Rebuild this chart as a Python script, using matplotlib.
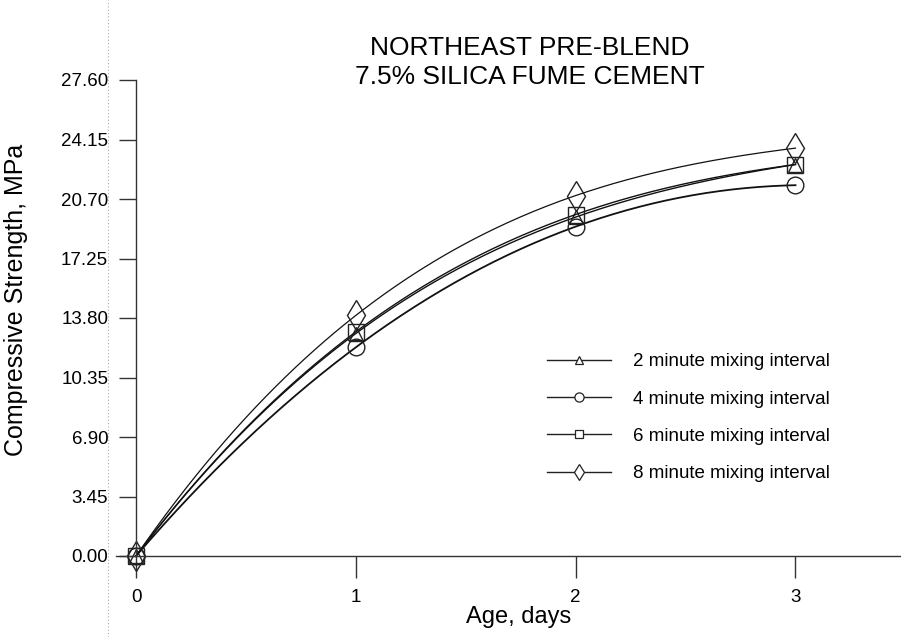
import matplotlib

matplotlib.use("Agg")
import matplotlib.pyplot as plt
import numpy as np
from matplotlib.lines import Line2D

plt.rcParams["font.family"] = ["Liberation Sans", "DejaVu Sans"]

age_days = [0, 1, 2, 3]
strength_2min = [0.0, 12.9, 19.65, 22.7]
strength_4min = [0.0, 12.1, 19.1, 21.5]
strength_6min = [0.0, 13.0, 19.8, 22.7]
strength_8min = [0.0, 13.95, 20.9, 23.65]
series_labels = ["2 minute mixing interval", "4 minute mixing interval",
                 "6 minute mixing interval", "8 minute mixing interval"]
y_ticks = [0.00, 3.45, 6.90, 10.35, 13.80, 17.25, 20.70, 24.15, 27.60]
x_ticks = [0, 1, 2, 3]

fig = plt.figure(figsize=(9.01, 6.37), dpi=100, facecolor="white")
ax = fig.add_axes([136 / 901, 1 - 556 / 637, 765 / 901, 476 / 637])

styles = [("^", 10, 1.0), ("o", 12, 1.3), ("s", 11, 1.0), ("d", 15, 0.9)]
series = [strength_2min, strength_4min, strength_6min, strength_8min]
handles = []
for values, label, (mk, ms, lw) in zip(series, series_labels, styles):
    # smooth curve through the measured points
    coef = np.polyfit(age_days, values, 3)
    xs = np.linspace(0, 3, 200)
    ax.plot(xs, np.polyval(coef, xs), color="#111111", lw=lw, clip_on=False)
    ax.plot(age_days, values, linestyle="none", marker=mk, ms=ms, mfc="none",
            mec="#222222", mew=1.0, clip_on=False)
    handles.append(Line2D([], [], color="#222222", lw=1.0, marker=mk,
                          ms=ms * 0.55, mfc="white", mec="#222222", mew=0.9,
                          label=label))

ax.set_xlim(0, 3.48)
ax.set_ylim(0, 27.6)
ax.set_xticks(x_ticks)
ax.set_yticks(y_ticks)
ax.set_yticklabels([f"{v:.2f}" for v in y_ticks])
ax.tick_params(axis="y", direction="out", length=12, width=1, pad=8,
               labelsize=13.5, color="#333333")
ax.tick_params(axis="x", direction="out", length=16, width=1, pad=8,
               labelsize=13.5, color="#333333")
for side in ("top", "right"):
    ax.spines[side].set_visible(False)
for side in ("left", "bottom"):
    ax.spines[side].set_color("#333333")
    ax.spines[side].set_linewidth(1.0)
ax.spines["bottom"].set_bounds(-0.09, 3.48)
ax.spines["bottom"].set_clip_on(False)

ax.set_xlabel("Age, days", fontsize=17, labelpad=0)
ax.set_ylabel("Compressive Strength, MPa", fontsize=18)
ax.yaxis.set_label_coords(-0.141, 0.538)

fig.text(530 / 901, 1 - 48 / 637, "NORTHEAST PRE-BLEND", fontsize=19,
         ha="center", va="center")
fig.text(530 / 901, 1 - 77 / 637, "7.5% SILICA FUME CEMENT", fontsize=19,
         ha="center", va="center")

ax.legend(handles=handles, loc="upper left", bbox_to_anchor=(547 / 901, 1 - 353 / 637),
          bbox_transform=fig.transFigure, frameon=False, fontsize=13.5,
          handlelength=3.4, handletextpad=1.2, labelspacing=1.08,
          borderpad=0, borderaxespad=0)

fig.add_artist(Line2D([108 / 901] * 2, [0, 1], color="#aaaaaa", lw=0.8,
                      linestyle=(0, (1, 2)), transform=fig.transFigure))

fig.savefig("out.png", dpi=100, facecolor="white")
